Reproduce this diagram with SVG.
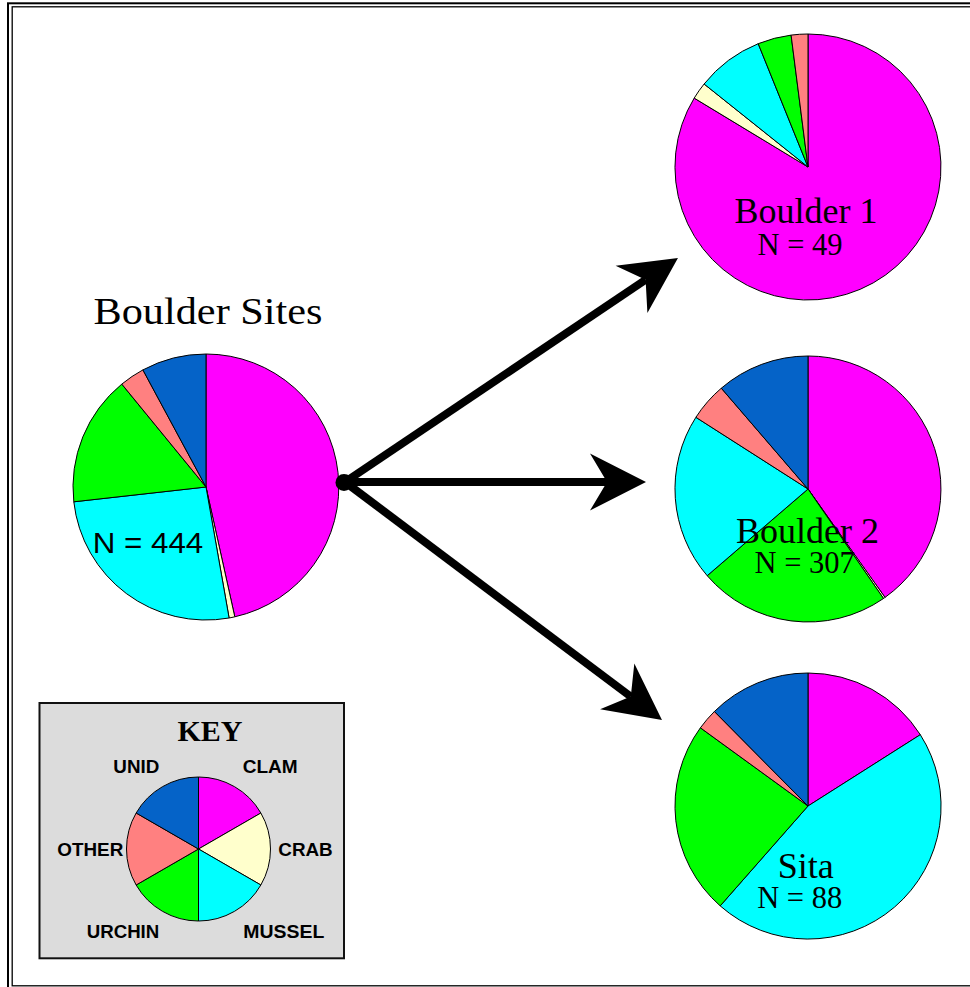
<svg xmlns="http://www.w3.org/2000/svg" width="970" height="987" viewBox="0 0 970 987">
<defs>
<style>
.s{stroke:#000;stroke-width:1;stroke-linejoin:round}
.cl{fill:#ff00ff}.cr{fill:#ffffcc}.mu{fill:#00ffff}.ur{fill:#00ff00}.ot{fill:#ff8080}.un{fill:#0563c8}
.serif{font-family:"Liberation Serif","Times New Roman",serif;fill:#000}
.sans{font-family:"Liberation Sans",Arial,sans-serif;fill:#000}
.klab{font-family:"Liberation Sans",Arial,sans-serif;font-weight:bold;font-size:19px;fill:#000}
.conn{stroke:#000;stroke-width:8;fill:none}
</style>
<marker id="ah" markerUnits="userSpaceOnUse" viewBox="-20 -30 62 60" refX="0" refY="0" markerWidth="62" markerHeight="60" orient="auto" overflow="visible">
<path d="M39,0 L-17,-28.5 L0,0 L-17,28.5 Z" fill="#000"/>
</marker>
</defs>
<rect width="970" height="987" fill="#fff"/>
<g id="frame" fill="none" stroke="#000">
<rect x="8" y="3.3" width="990" height="1010" stroke-width="2"/>
<rect x="12.2" y="6.8" width="980" height="979" stroke-width="1.3"/>
</g>

<g id="connectors">
<path class="conn" d="M345,482 L645.6,279.8" marker-end="url(#ah)"/>
<path class="conn" d="M345,482 L607,482" marker-end="url(#ah)"/>
<path class="conn" d="M345,482 L630.8,696.6" marker-end="url(#ah)"/>
</g>

<g id="boulder-sites">
<text class="serif" x="208" y="323.5" font-size="38" text-anchor="middle" textLength="229" lengthAdjust="spacingAndGlyphs">Boulder Sites</text>
<path class="s cl" d="M206,487 L206,354 A133,133 0 0 1 234.8,616.8 Z"/>
<path class="s cr" d="M206,487 L234.8,616.8 A133,133 0 0 1 229.1,618 Z"/>
<path class="s mu" d="M206,487 L229.1,618 A133,133 0 0 1 73.8,501.8 Z"/>
<path class="s ur" d="M206,487 L73.8,501.8 A133,133 0 0 1 121.8,384.1 Z"/>
<path class="s ot" d="M206,487 L121.8,384.1 A133,133 0 0 1 142.9,369.9 Z"/>
<path class="s un" d="M206,487 L142.9,369.9 A133,133 0 0 1 206,354 Z"/>
<text class="sans" x="92.7" y="552.7" font-size="30" textLength="110.6" lengthAdjust="spacingAndGlyphs">N = 444</text>
</g>

<circle id="hub" cx="344" cy="482.5" r="8.5" fill="#000"/>

<g id="boulder-1">
<path class="s cl" d="M808,167 L808,34 A133,133 0 1 1 694.2,98.1 Z"/>
<path class="s cr" d="M808,167 L694.2,98.1 A133,133 0 0 1 704.1,84 Z"/>
<path class="s mu" d="M808,167 L704.1,84 A133,133 0 0 1 758.2,43.7 Z"/>
<path class="s ur" d="M808,167 L758.2,43.7 A133,133 0 0 1 791.1,35.1 Z"/>
<path class="s ot" d="M808,167 L791.1,35.1 A133,133 0 0 1 808,34 Z"/>
<text class="serif" x="806" y="223.3" font-size="36" text-anchor="middle">Boulder 1</text>
<text class="serif" x="800" y="255" font-size="30.5" text-anchor="middle">N = 49</text>
</g>

<g id="boulder-2">
<path class="s cl" d="M808,489 L808,356 A133,133 0 0 1 885,597.4 Z"/>
<path class="s cr" d="M808,489 L885,597.4 A133,133 0 0 1 883.5,598.5 Z"/>
<path class="s ur" d="M808,489 L883.5,598.5 A133,133 0 0 1 707.2,575.7 Z"/>
<path class="s mu" d="M808,489 L707.2,575.7 A133,133 0 0 1 695.9,417.3 Z"/>
<path class="s ot" d="M808,489 L695.9,417.3 A133,133 0 0 1 721.3,388.2 Z"/>
<path class="s un" d="M808,489 L721.3,388.2 A133,133 0 0 1 808,356 Z"/>
<text class="serif" x="807.5" y="543.3" font-size="36" text-anchor="middle">Boulder 2</text>
<text class="serif" x="804.7" y="573.3" font-size="30.5" text-anchor="middle">N = 307</text>
</g>

<g id="sita">
<path class="s cl" d="M808,806 L808,673 A133,133 0 0 1 920.3,734.7 Z"/>
<path class="s mu" d="M808,806 L920.3,734.7 A133,133 0 0 1 720.2,905.9 Z"/>
<path class="s ur" d="M808,806 L720.2,905.9 A133,133 0 0 1 700.4,727.8 Z"/>
<path class="s ot" d="M808,806 L700.4,727.8 A133,133 0 0 1 714.4,711.5 Z"/>
<path class="s un" d="M808,806 L714.4,711.5 A133,133 0 0 1 808,673 Z"/>
<text class="serif" x="805.8" y="878.3" font-size="36" text-anchor="middle">Sita</text>
<text class="serif" x="799.7" y="908.3" font-size="30.5" text-anchor="middle">N = 88</text>
</g>

<g id="key">
<rect x="39.5" y="703" width="304.5" height="255.3" fill="#dcdcdc" stroke="#111" stroke-width="2"/>
<text class="serif" x="210" y="740.7" font-size="30" font-weight="bold" text-anchor="middle">KEY</text>
<path class="s cl" d="M198.5,849 L198.5,777 A72,72 0 0 1 260.85,813 Z"/>
<path class="s cr" d="M198.5,849 L260.85,813 A72,72 0 0 1 260.85,885 Z"/>
<path class="s mu" d="M198.5,849 L260.85,885 A72,72 0 0 1 198.5,921 Z"/>
<path class="s ur" d="M198.5,849 L198.5,921 A72,72 0 0 1 136.15,885 Z"/>
<path class="s ot" d="M198.5,849 L136.15,885 A72,72 0 0 1 136.15,813 Z"/>
<path class="s un" d="M198.5,849 L136.15,813 A72,72 0 0 1 198.5,777 Z"/>
<text class="klab" x="113.3" y="772.7" textLength="46" lengthAdjust="spacingAndGlyphs">UNID</text>
<text class="klab" x="242.7" y="772.7" textLength="55" lengthAdjust="spacingAndGlyphs">CLAM</text>
<text class="klab" x="57.3" y="855.7" textLength="66" lengthAdjust="spacingAndGlyphs">OTHER</text>
<text class="klab" x="278.3" y="855.7" textLength="54.4" lengthAdjust="spacingAndGlyphs">CRAB</text>
<text class="klab" x="86.7" y="938.3" textLength="72.6" lengthAdjust="spacingAndGlyphs">URCHIN</text>
<text class="klab" x="243.3" y="938.3" textLength="81" lengthAdjust="spacingAndGlyphs">MUSSEL</text>
</g>
</svg>
